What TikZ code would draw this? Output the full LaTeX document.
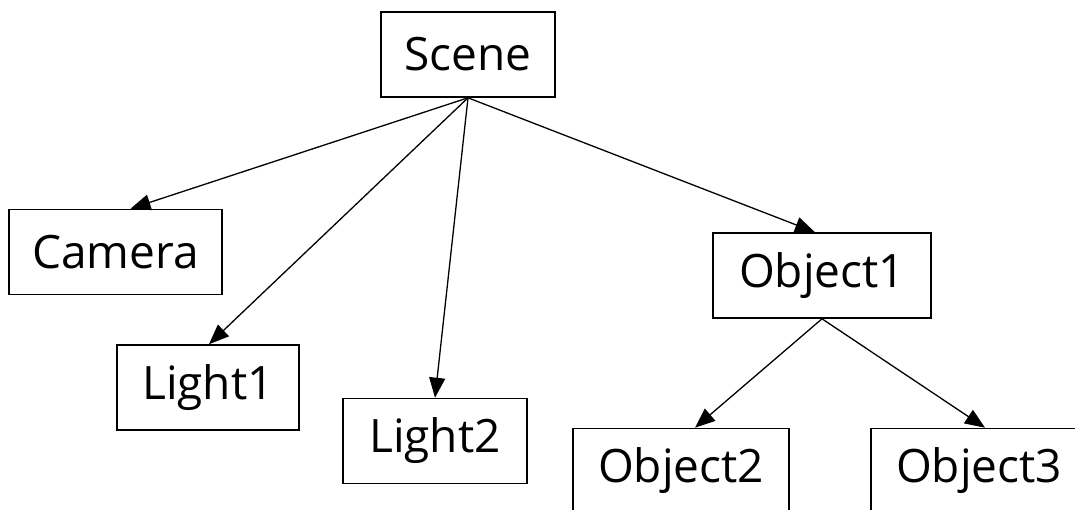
\documentclass[tikz,border=0pt]{standalone}
\usepackage{fontspec}
\setmainfont{Open Sans}
\usetikzlibrary{arrows.meta}
\begin{document}
\begin{tikzpicture}[x=1pt,y=-1pt,
  box/.style={draw, line width=1.6pt, inner sep=0pt, minimum height=85pt,
    font=\fontsize{46}{50}\selectfont},
  arr/.style={line width=1.3pt, -{Triangle[length=20pt,width=16pt]}}]
  \useasboundingbox (0,0) rectangle (1075,509);
  % the scene graph nodes
  \node[box, minimum width=174pt] (scene)   at (468,54.5)  {Scene};
  \node[box, minimum width=213pt] (camera)  at (115.5,252) {Camera};
  \node[box, minimum width=182pt] (light1)  at (208,387.5) {Light1};
  \node[box, minimum width=184pt] (light2)  at (435,441)   {Light2};
  \node[box, minimum width=218pt] (object1) at (822,275.5) {Object1};
  \node[box, minimum width=216pt] (object2) at (681,471)   {Object2};
  \node[box, minimum width=216pt] (object3) at (979,471)   {Object3};
  % parent to child links
  \draw[arr] (scene.south) -- ([xshift=15pt]camera.north);
  \draw[arr] (scene.south) -- ([xshift=1pt]light1.north);
  \draw[arr] (scene.south) -- (light2.north);
  \draw[arr] (scene.south) -- ([xshift=-7pt]object1.north);
  \draw[arr] (object1.south) -- ([xshift=14pt]object2.north);
  \draw[arr] (object1.south) -- ([xshift=6pt]object3.north);
\end{tikzpicture}
\end{document}
